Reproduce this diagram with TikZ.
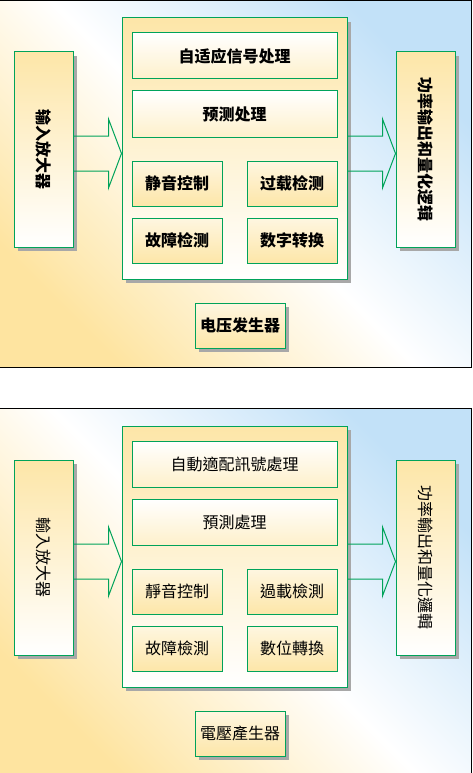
\documentclass[tikz,border=0pt]{standalone}
\usepackage{fontspec}
\newfontfamily\scfont{Noto Sans CJK SC}
\newfontfamily\tcfont{Noto Sans CJK TC}
\usepackage{tikz}
\usetikzlibrary{calc, shadows}
\usepackage{xcolor}
\definecolor{frame}{RGB}{0,163,90}
\definecolor{beige}{RGB}{253,230,168}
\definecolor{bgyellow}{RGB}{254,228,160}
\definecolor{bgblue}{RGB}{194,225,248}
\definecolor{shadowgray}{RGB}{168,168,168}

\tikzset{
  panel/.style={draw=black, line width=1pt, bottom color=bgyellow, top color=bgblue, middle color=white, shading angle=-45},
  boxshadow/.style={drop shadow={shadow xshift=4pt, shadow yshift=-4pt, fill=shadowgray, opacity=1}},
  base/.style={draw=frame, line width=1pt, inner sep=0pt, align=center},
  tallbox/.style={base, minimum width=59pt, minimum height=195pt, top color=beige, bottom color=white, boxshadow},
  corebox/.style={base, minimum width=225pt, minimum height=261pt, top color=beige, bottom color=white, boxshadow},
  widebox/.style={base, minimum width=205pt, minimum height=46pt, top color=white, bottom color=beige!60},
  unitbox/.style={base, minimum width=90pt, minimum height=45pt, top color=beige!35, bottom color=beige},
  arrowline/.style={draw=frame, line width=1pt}
}

% hollow block arrow: #1 start of shaft, #2 tip
\newcommand{\hollowarrow}[2]{%
  \draw[arrowline] (#1) ++(0,17.5) -| ($(#2)+(-13,34.5)$) -- (#2) -- ++(-13,-34.5) |- ($(#1)+(0,-17.5)$);}

\begin{document}
\begin{tikzpicture}[x=1pt, y=1pt]
  \useasboundingbox (0,0) rectangle (472,-773);

  % simplified
  \begin{scope}[font=\scfont\bfseries\fontsize{16}{19}\selectfont]
    \path[panel] (-2,-0.5) rectangle (471,-367.5);
    \node[tallbox] (inampA) at (43.5,-149.5) {};
    \node[rotate=-90] (inamptxtA) at (inampA.center) {输入放大器};
    \node[corebox] (coreA) at (234.5,-148.5) {};
    \node[widebox] (adaptA) at (234.5,-56) {自适应信号处理};
    \node[widebox] (predictA) at (234.5,-114) {预测处理};
    \node[unitbox] (muteA) at (177,-183.5) {静音控制};
    \node[unitbox] (overloadA) at (292,-183.5) {过载检测};
    \node[unitbox] (faultA) at (177,-240.5) {故障检测};
    \node[unitbox] (adcA) at (292,-240.5) {数字转换};
    \node[tallbox] (outA) at (425.5,-149.5) {};
    \node[rotate=-90] (outtxtA) at (outA.center) {功率输出和量化逻辑};
    \node[unitbox, boxshadow] (vgenA) at (240,-325.5) {电压发生器};
    \coordinate (axisA) at (0,-153.5);
    \coordinate (fromA) at (inampA.east |- axisA);
    \coordinate (tipA) at (coreA.west |- axisA);
    \coordinate (fromB) at (coreA.east |- axisA);
    \coordinate (tipB) at (outA.west |- axisA);
    \hollowarrow{fromA}{tipA}
    \hollowarrow{fromB}{tipB}
  \end{scope}

  % traditional
  \begin{scope}[yshift=-408pt, font=\tcfont\fontsize{16}{19}\selectfont]
    \path[panel] (-2,-0.3) rectangle (471,-367.5);
    \node[tallbox] (inampC) at (43.5,-149.5) {};
    \node[rotate=-90] (inamptxtC) at (inampC.center) {輸入放大器};
    \node[corebox] (coreC) at (234.5,-148.5) {};
    \node[widebox] (adaptC) at (234.5,-56) {自動適配訊號處理};
    \node[widebox] (predictC) at (234.5,-114) {預測處理};
    \node[unitbox] (muteC) at (177,-183.5) {靜音控制};
    \node[unitbox] (overloadC) at (292,-183.5) {過載檢測};
    \node[unitbox] (faultC) at (177,-240.5) {故障檢測};
    \node[unitbox] (adcC) at (292,-240.5) {數位轉換};
    \node[tallbox] (outC) at (425.5,-149.5) {};
    \node[rotate=-90] (outtxtC) at (outC.center) {功率輸出和量化邏輯};
    \node[unitbox, boxshadow] (vgenC) at (240,-325.5) {電壓產生器};
    \coordinate (axisC) at (0,-153.5);
    \coordinate (fromC) at (inampC.east |- axisC);
    \coordinate (tipC) at (coreC.west |- axisC);
    \coordinate (fromD) at (coreC.east |- axisC);
    \coordinate (tipD) at (outC.west |- axisC);
    \hollowarrow{fromC}{tipC}
    \hollowarrow{fromD}{tipD}
  \end{scope}
\end{tikzpicture}
\end{document}
